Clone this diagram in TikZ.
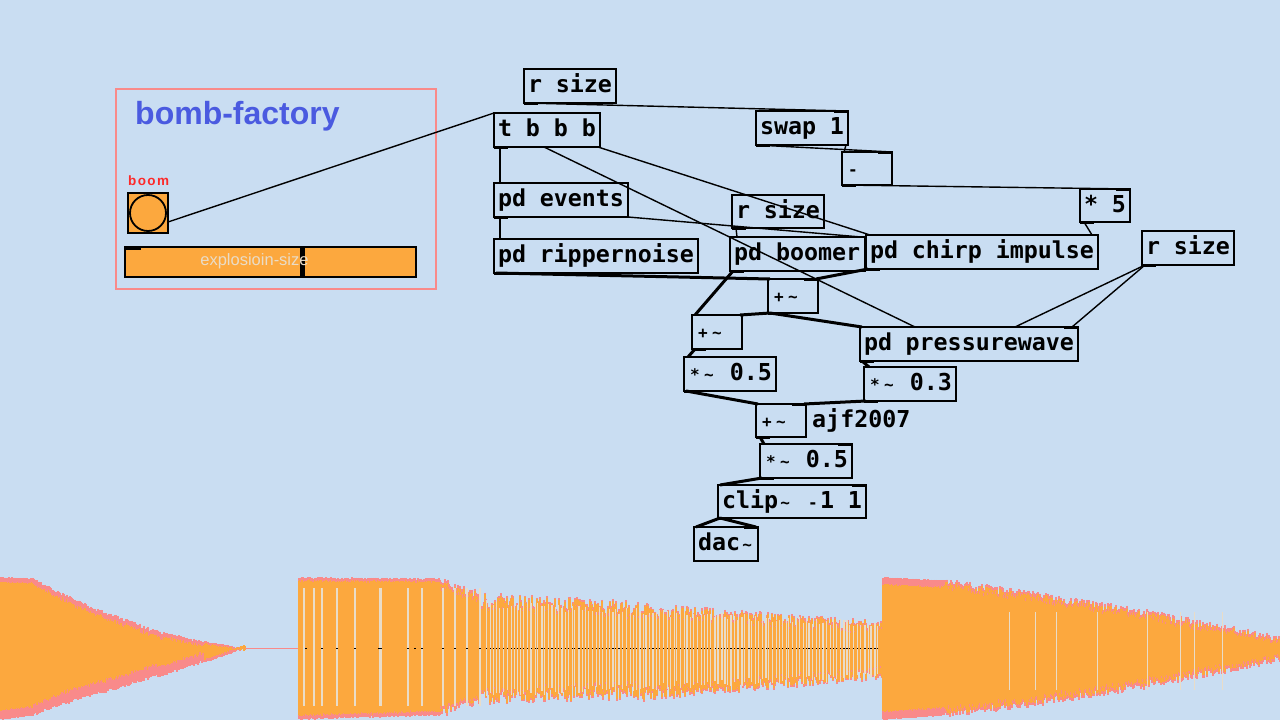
\documentclass[tikz,border=0pt]{standalone}
\usepackage{fontspec}
\setmainfont{Liberation Sans}
\newfontfamily\pdfont{DejaVu Sans Mono}
\definecolor{bgc}{HTML}{C9DDF2}
\definecolor{orng}{HTML}{FCA83E}
\definecolor{pnk}{HTML}{F98A8A}
\definecolor{lite}{HTML}{E9DCC8}
\definecolor{ttl}{HTML}{4A5AE0}
\newcommand{\sm}[1]{\makebox[14pt][c]{\fontsize{16}{16}\selectfont #1}}
\newcommand{\tl}{\sm{\textasciitilde}}
\newcommand{\pdset}{\pdfont\bfseries\fontsize{23.3}{23.3}\selectfont}
\newcommand{\pdbox}[6]{\node[obj,text width=\the\numexpr#4-8\relax pt,minimum height=#5pt] (#1) at (#2,#3) {#6};}
% x0 x1 top0 top1 bot0 bot1 topmargin botmargin jitter
\newcommand{\wseg}[9]{%
  \foreach \x in {#1,...,#2}{%
    \pgfmathsetmacro{\f}{(\x-#1)/(#2-#1)}%
    \pgfmathsetmacro{\wt}{#3+(#4-#3)*\f+#9*rnd}%
    \pgfmathsetmacro{\wb}{#5+(#6-#5)*\f-#9*rnd}%
    \draw[pnk,line width=1.15pt] (\x,\wt) -- (\x,\wb);
    \pgfmathsetmacro{\ot}{\wt+#7+1.5*rnd}%
    \pgfmathsetmacro{\ob}{\wb-#8-1.5*rnd}%
    \draw[orng,line width=1.15pt] (\x,\ot) -- (\x,\ob);
  }%
}
\tikzset{
  obj/.style={draw=black,line width=1.9pt,anchor=north west,inner xsep=4pt,inner ysep=0pt,outer sep=0pt,
    align=flush left,text height=15pt,text depth=2pt,font=\pdset},
  wire/.style={draw=black,line width=1.4pt},
  sig/.style={draw=black,line width=3pt},
  port/.style={draw=black,line width=3pt},
  gap/.style={draw=lite,line width=1.3pt},
}
\begin{document}
\begin{tikzpicture}[x=1pt,y=-1pt]
\useasboundingbox (0,0) rectangle (1280,720);
\fill[bgc] (0,0) rectangle (1280,720);
\begin{scope}
\clip (0,0) rectangle (1280,720);
\pgfmathsetseed{4242}
% first burst
\wseg{0}{33}{577}{578}{720}{716}{4}{8}{1}
\wseg{34}{60}{578}{592}{716}{706}{4}{9}{3}
\wseg{61}{102}{592}{610}{706}{694}{4}{10}{4}
\wseg{103}{163}{610}{632}{694}{676}{4}{10}{4}
\wseg{164}{204}{632}{641}{676}{663}{3}{8}{3}
\wseg{205}{245}{641}{648}{663}{649}{1}{2}{1.5}
\draw[pnk,line width=1.2pt] (245,648.5) -- (299,648.5);
% second burst
\wseg{299}{440}{577}{578}{720}{716}{2}{3}{2}
\wseg{441}{480}{578}{590}{718}{705}{2}{2}{10}
\wseg{481}{640}{592}{600}{706}{700}{1}{1}{18}
\wseg{641}{883}{602}{620}{702}{680}{1}{1}{14}
\foreach \g in {304,314,322,337,355,380,381,408,422,443,455,467,480}
  \draw[gap] (\g,588) -- (\g,706);
\foreach \i in {0,...,115}{
  \pgfmathsetmacro{\gx}{486+\i*3.4+1.6*rnd}
  \pgfmathsetmacro{\fr}{(\gx-486)/397}
  \pgfmathsetmacro{\gt}{600+20*\fr+8*rnd}
  \pgfmathsetmacro{\gb}{698-18*\fr-8*rnd}
  \draw[gap] (\gx,\gt) -- (\gx,\gb);
  \fill[black] (\gx-.6,648) rectangle (\gx+.6,649);
}
\foreach \d in {306,322,337,355,379,381,408,415,422,443,455,467,480}
  \fill[black] (\d-.6,648) rectangle (\d+.6,649);
% third burst
\wseg{883}{944}{577}{580}{720}{716}{6}{7}{1}
\wseg{945}{1028}{578}{590}{718}{708}{2}{2}{9}
\wseg{1029}{1130}{590}{606}{708}{692}{2}{2}{9}
\wseg{1131}{1232}{606}{625}{692}{673}{2}{2}{9}
\wseg{1233}{1280}{625}{636}{673}{662}{2}{2}{7}
\foreach \g in {1056,1097,1147,1180,1009,1035,1194,1222}
  \draw[gap,line width=.8pt] (\g,612) -- (\g,690);
\end{scope}

% left panel
\node[draw=pnk,line width=1.8pt,minimum width=320pt,minimum height=200pt,anchor=north west,inner sep=0pt,outer sep=0pt] (panel) at (116,89) {};
\node[anchor=west,inner sep=0pt,text=ttl,font=\bfseries\fontsize{32}{32}\selectfont] (title) at (135,116) {bomb-factory};
\node[anchor=west,inner sep=0pt,text=red!70!pnk,font=\bfseries\fontsize{13.5}{14}\selectfont] (boomlabel) at (128,181) {b\kern1.4pt o\kern1.4pt o\kern1.4pt m};
\node[draw=black,fill=orng,line width=2pt,minimum size=40pt,anchor=north west,inner sep=0pt,outer sep=0pt] (boom) at (128,193) {};
\node[draw=black,circle,line width=1.8pt,fill=orng,minimum size=36pt,inner sep=0pt] (boomc) at (boom.center) {};
\node[draw=black,fill=orng,line width=2pt,minimum width=291pt,minimum height=30pt,anchor=north west,inner sep=0pt,outer sep=0pt] (slider) at (125,247) {};
\fill[black] (300,247) rectangle (304.5,277);
\fill[black] (125,247) rectangle (141,249.5);
\node[inner sep=0pt,text=lite,font=\fontsize{16.5}{16.5}\selectfont] (sliderlabel) at (254.5,261) {explosioin-size};

% objects
\pdbox{rtop}{524}{69}{92}{34}{r size}
\pdbox{tbbb}{494}{113}{106}{34}{t b b b}
\pdbox{swap}{756}{111}{92}{34}{swap 1}
\pdbox{minus}{842}{152}{50}{33}{\sm{-}}
\pdbox{events}{494}{183}{134}{34}{pd events}
\pdbox{ripper}{494}{239}{204}{34}{pd rippernoise}
\pdbox{rmid}{732}{195}{92}{33}{r size}
\pdbox{boomer}{730}{237}{135}{34}{pd boomer}
\pdbox{chirp}{866}{235}{232}{34}{pd chirp impulse}
\pdbox{five}{1080}{189}{50}{33}{* 5}
\pdbox{rright}{1142}{231}{92}{34}{r size}
\pdbox{addtop}{768}{279}{50}{34}{\sm{+}\tl}
\pdbox{addleft}{692}{315}{50}{34}{\sm{+}\tl}
\pdbox{press}{860}{327}{218}{34}{pd pressurewave}
\pdbox{mulA}{684}{357}{92}{34}{\sm{*}\tl{} 0.5}
\pdbox{mulB}{864}{367}{92}{34}{\sm{*}\tl{} 0.3}
\pdbox{addlow}{756}{404}{50}{33}{\sm{+}\tl}
\pdbox{mulC}{760}{444}{92}{34}{\sm{*}\tl{} 0.5}
\pdbox{clip}{718}{485}{148}{33}{clip\tl{} \sm{-}1 1}
\pdbox{dac}{694}{527}{64}{34}{dac\tl}
\node[anchor=west,inner sep=0pt,text height=15pt,text depth=2pt,font=\pdset] (author) at (812,421) {ajf2007};

% ports
\foreach \n in {rtop,tbbb,swap,minus,events,ripper,rmid,boomer,chirp,five,rright,addtop,addleft,press,mulA,mulB,addlow,mulC,clip}
  \draw[port] (\n.south west) -- ([xshift=14pt]\n.south west);
\foreach \n in {swap,minus,five,addtop,press,addlow,clip,dac,mulC}
  \draw[port] ([xshift=-14pt]\n.north east) -- (\n.north east);

% control wires
\draw[wire] ([yshift=-9pt]boom.east) -- (tbbb.north west);
\draw[wire] (rtop.south west) -- (swap.north east);
\draw[wire] (swap.south west) -- (minus.north east);
\draw[wire] ([xshift=-2pt]swap.south east) -- ([xshift=2pt]minus.north west);
\draw[wire] (minus.south west) -- (five.north east);
\draw[wire] ([xshift=4pt]five.south west) -- ([xshift=-6pt,yshift=0pt]chirp.north east);
\draw[wire] ([xshift=6pt]tbbb.south west) -- ([xshift=6pt]events.north west);
\draw[wire] ([xshift=6pt]events.south west) -- ([xshift=6pt]ripper.north west);
\draw[wire] ([xshift=50pt]tbbb.south west) -- ([xshift=55pt]press.north west);
\draw[wire] ([xshift=-2pt]tbbb.south east) -- ([xshift=4pt]chirp.north west);
\draw[wire] (events.south east) -- ([xshift=-4pt]boomer.north east);
\draw[wire] ([xshift=4pt]rmid.south west) -- ([xshift=7pt]boomer.north west);
\draw[wire] ([xshift=3pt]rright.south west) -- ([xshift=155pt]press.north west);
\draw[wire] ([xshift=3pt]rright.south west) -- ([xshift=-6pt]press.north east);

% signal wires
\draw[sig] ([xshift=2pt]ripper.south west) -- ([xshift=2pt]addtop.north west);
\draw[sig] ([xshift=3pt]boomer.south west) -- ([xshift=3pt]addleft.north west);
\draw[sig] ([xshift=2pt]chirp.south west) -- ([xshift=-2pt]addtop.north east);
\draw[sig] ([xshift=2pt]addtop.south west) -- ([xshift=-2pt]addleft.north east);
\draw[sig] ([xshift=2pt]addtop.south west) -- ([xshift=2pt]press.north west);
\draw[sig] ([xshift=3pt]addleft.south west) -- ([xshift=4pt]mulA.north west);
\draw[sig] ([xshift=2pt]press.south west) -- ([xshift=5pt]mulB.north west);
\draw[sig] ([xshift=2pt]mulA.south west) -- ([xshift=2pt]addlow.north west);
\draw[sig] ([xshift=2pt]mulB.south west) -- ([xshift=-2pt]addlow.north east);
\draw[sig] ([xshift=4pt]addlow.south west) -- ([xshift=4pt]mulC.north west);
\draw[sig] ([xshift=2pt]mulC.south west) -- ([xshift=2pt]clip.north west);
\draw[sig] ([xshift=2pt]clip.south west) -- ([xshift=2pt]dac.north west);
\draw[sig] ([xshift=2pt]clip.south west) -- ([xshift=-2pt]dac.north east);
\end{tikzpicture}
\end{document}
